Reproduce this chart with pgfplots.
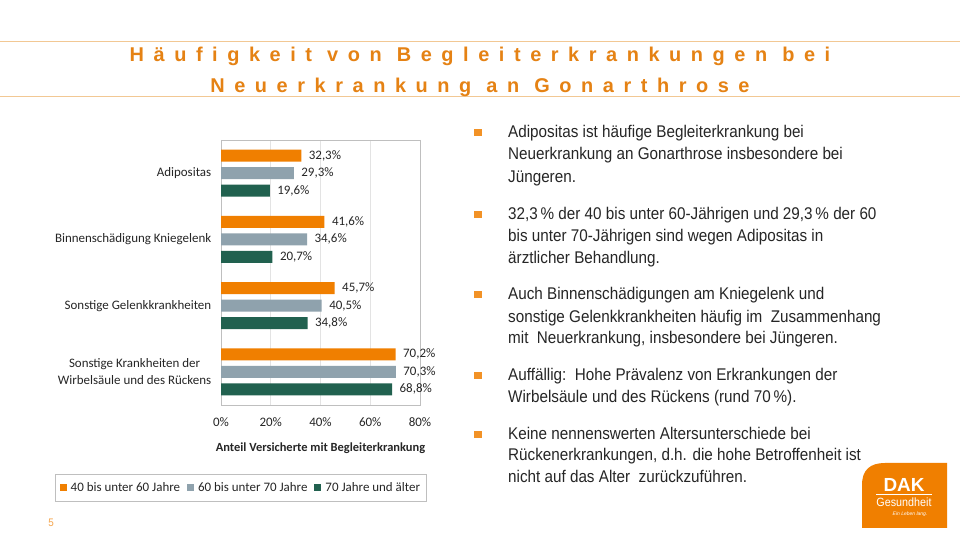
\documentclass[border=0pt]{standalone}
\usepackage{pgfplots}
\pgfplotsset{compat=1.18}
\usepackage{fontspec}
\setmainfont{Liberation Sans}
\newfontfamily\carlito{Carlito}
\newfontfamily\narrow[FakeStretch=0.9]{Liberation Sans}
\newfontfamily\titlefont[LetterSpace=48]{Liberation Sans}
\definecolor{dakorange}{HTML}{F07F00}
\definecolor{titleorange}{HTML}{E58214}
\definecolor{lineorange}{HTML}{F2C894}
\definecolor{barorange}{HTML}{F07F00}
\definecolor{bargrey}{HTML}{8FA2AD}
\definecolor{bargreen}{HTML}{21614F}
\definecolor{framegray}{HTML}{BFBFBF}
\definecolor{gridgray}{HTML}{E3E3E3}
\definecolor{txt}{HTML}{262626}
\begin{document}
\begin{tikzpicture}[x=1bp,y=1bp]
\useasboundingbox (0,0) rectangle (960,540);
\fill[white] (0,0) rectangle (960,540);
% title lines
\draw[lineorange,line width=0.8bp] (0,540-41) -- (960,540-41);
\draw[lineorange,line width=0.8bp] (0,540-96) -- (960,540-96);
\node[anchor=base,text=titleorange,font=\titlefont\bfseries\fontsize{20}{22}\selectfont] at (480,540-62) {Häufigkeit von Begleiterkrankungen bei};
\node[anchor=base,text=titleorange,font=\titlefont\bfseries\fontsize{20}{22}\selectfont] at (480,540-93) {Neuerkrankung an Gonarthrose};

\begin{axis}[
  at={(221bp,135bp)}, anchor=south west, scale only axis,
  width=199bp, height=265bp,
  xbar, bar width=12bp,
  xmin=0, xmax=80, ymin=-0.5, ymax=3.5, y dir=reverse,
  xtick={0,20,40,60,80},
  xticklabel={\pgfmathprintnumber{\tick}\%},
  /pgf/number format/assume math mode=true,
  xticklabel style={font=\carlito\fontsize{13}{15}\selectfont, text=txt, yshift=-9bp},
  ytick={0,1,2,3},
  yticklabels={Adipositas, Binnenschädigung Kniegelenk, Sonstige Gelenkkrankheiten, {Sonstige Krankheiten der\\Wirbelsäule und des Rückens}},
  yticklabel style={align=center, font=\carlito\fontsize{13}{17}\selectfont, text=txt, xshift=-2bp},
  tick style={draw=none},
  xmajorgrids, grid style={draw=gridgray, line width=0.6bp},
  axis line style={draw=framegray, line width=0.8bp},
  xlabel={Anteil Versicherte mit Begleiterkrankung},
  xlabel style={at={(axis description cs:0.5,-0.177)}, anchor=base, font=\carlito\bfseries\fontsize{12.5}{14}\selectfont, text=txt},
  point meta=x,
  nodes near coords={\pgfmathprintnumber[fixed,fixed zerofill,precision=1,use comma]{\pgfplotspointmeta}\%},
  nodes near coords align=horizontal,
  every node near coord/.append style={font=\carlito\fontsize{13}{15}\selectfont, text=txt, xshift=4bp},
  legend columns=3,
  legend style={at={(axis description cs:0.1,-0.313)}, anchor=center, draw=framegray, line width=0.8bp,
    inner xsep=4bp, inner ysep=6bp, font=\carlito\fontsize{13}{15}\selectfont, text=txt,
    /tikz/every odd column/.append style={column sep=2bp},
    /tikz/every even column/.append style={column sep=5bp}},
  legend image code/.code={\fill[#1,draw=none] (0bp,-3.5bp) rectangle (7bp,3.5bp);},
]
\addplot[fill=barorange, draw=none, bar shift=17.5bp] coordinates {(32.3,0) (41.6,1) (45.7,2) (70.2,3)};
\addplot[fill=bargrey, draw=none, bar shift=0bp] coordinates {(29.3,0) (34.6,1) (40.5,2) (70.3,3)};
\addplot[fill=bargreen, draw=none, bar shift=-17.5bp] coordinates {(19.6,0) (20.7,1) (34.8,2) (68.8,3)};
\legend{40 bis unter 60 Jahre, 60 bis unter 70 Jahre, 70 Jahre und älter}
\end{axis}

% bullets and text
\foreach \b in {138,220,300,381,440} {
  \fill[dakorange!85] (474,540-\b+1.5) rectangle (482,540-\b+9);
}
\begin{scope}[every node/.style={anchor=base west, inner sep=0pt, text=txt, font=\narrow\fontsize{17}{19}\selectfont}]
\node at (508,540-138) {Adipositas ist häufige Begleiterkrankung bei};
\node at (508,540-160) {Neuerkrankung an Gonarthrose insbesondere bei};
\node at (508,540-183) {Jüngeren.};
\node at (508,540-220) {32,3\,\% der 40 bis unter 60-Jährigen und 29,3\,\% der 60};
\node at (508,540-242) {bis unter 70-Jährigen sind wegen Adipositas in};
\node at (508,540-264) {ärztlicher Behandlung.};
\node at (508,540-300) {Auch Binnenschädigungen am Kniegelenk und};
\node at (508,540-323) {sonstige Gelenkkrankheiten häufig im\ \ Zusammenhang};
\node at (508,540-344) {mit\ \ Neuerkrankung, insbesondere bei Jüngeren.};
\node at (508,540-381) {Auffällig:\ \ Hohe Prävalenz von Erkrankungen der};
\node at (508,540-403) {Wirbelsäule und des Rückens (rund 70\,\%).};
\node at (508,540-440) {Keine nennenswerten Altersunterschiede bei};
\node at (508,540-461) {Rückenerkrankungen, d.h. die hohe Betroffenheit\ ist};
\node at (508,540-483) {nicht auf das Alter\ \ zurückzuführen.};
\end{scope}

% page number
\node[anchor=base, text=dakorange!70, font=\narrow\fontsize{11}{13}\selectfont] at (51,540-527) {5};

% logo
\fill[dakorange] (862,540-528) -- (947,540-528) -- (947,540-463) -- (885,540-463) .. controls (870,540-463) and (862,540-470) .. (862,540-485) -- cycle;
\node[anchor=base, text=white, font=\bfseries\fontsize{19}{20}\selectfont] at (904,540-492) {DAK};
\draw[white, line width=1bp] (876,540-495) -- (932,540-495);
\node[anchor=base, text=white, font=\narrow\fontsize{12}{13}\selectfont] at (904,540-507) {Gesundheit};
\node[anchor=base, text=white, font=\itshape\fontsize{5}{6}\selectfont] at (910,540-516) {Ein Leben lang.};
\end{tikzpicture}
\end{document}
